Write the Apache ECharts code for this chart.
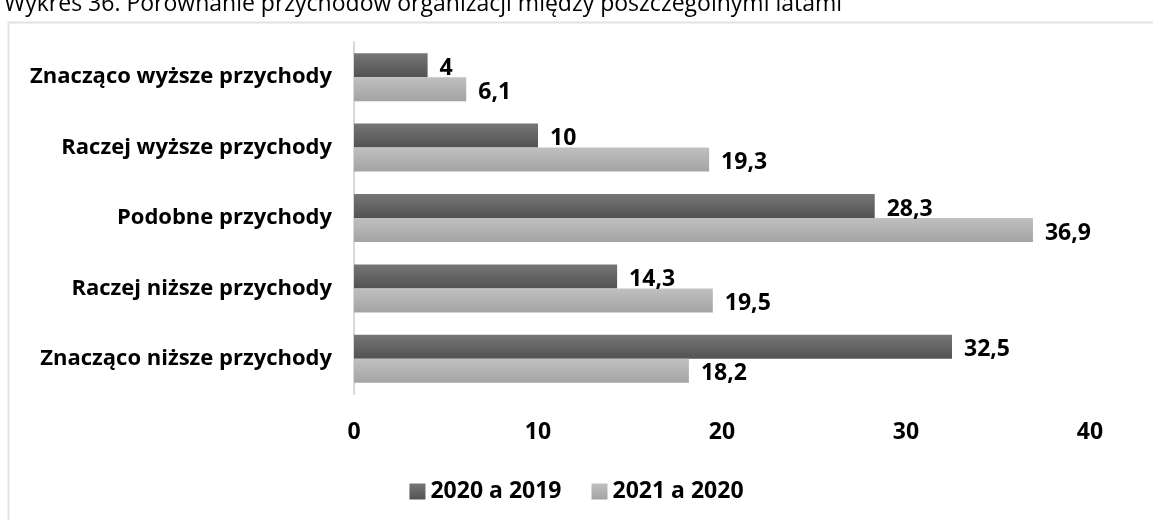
<!DOCTYPE html>
<html>
<head>
<meta charset="UTF-8">
<title>Wykres 36</title>
<script src="https://cdn.jsdelivr.net/npm/echarts@6/dist/echarts.min.js"></script>
</head>
<body style="margin:0;background:#fff;">
<div id="chart" style="width:1153px;height:520px;"></div>
<script>
// dane
var categories = ['Znacząco wyższe przychody', 'Raczej wyższe przychody', 'Podobne przychody', 'Raczej niższe przychody', 'Znacząco niższe przychody'];
var s2020 = [4, 10, 28.3, 14.3, 32.5];
var s2021 = [6.1, 19.3, 36.9, 19.5, 18.2];
var seriesNames = ['2020 a 2019', '2021 a 2020'];

var font = '"Open Sans", sans-serif';

function grad(top, bottom) {
	return {
		type: 'linear', x: 0, y: 0, x2: 0, y2: 1,
		colorStops: [{offset: 0, color: top}, {offset: 1, color: bottom}]
	};
}

var labelStyle = {
	show: true,
	position: 'right',
	distance: 12,
	offset: [0, 3],
	color: '#000',
	fontWeight: 'bold',
	fontSize: 23,
	fontFamily: font,
	formatter: function (p) { return String(p.value).replace('.', ','); }
};

var option = {
	animation: false,
	title: {
		text: 'Wykres 36. Porównanie przychodów organizacji między poszczególnymi latami',
		left: -1,
		top: -12,
		textStyle: {fontSize: 23, fontWeight: 'normal', color: '#000', fontFamily: font}
	},
	graphic: [{
		type: 'rect',
		shape: {x: 8.5, y: 22.5, width: 1160, height: 520},
		style: {fill: 'none', stroke: '#dde3ea', lineWidth: 2},
		silent: true
	}],
	grid: {left: 354, right: 63, top: 42, bottom: 126},
	legend: {
		bottom: 12,
		left: 'center',
		itemWidth: 16,
		itemHeight: 16,
		itemGap: 30,
		icon: 'rect',
		textStyle: {fontSize: 23, fontWeight: 'bold', color: '#000', fontFamily: font},
		data: seriesNames
	},
	xAxis: {
		type: 'value',
		min: 0,
		max: 40,
		interval: 10,
		axisLine: {show: false},
		axisTick: {show: false},
		splitLine: {show: false},
		axisLabel: {margin: 27, color: '#000', fontWeight: 'bold', fontSize: 23, fontFamily: font}
	},
	yAxis: {
		type: 'category',
		inverse: true,
		data: categories,
		axisLine: {show: true, lineStyle: {color: '#d9d9d9', width: 2}},
		axisTick: {show: false},
		axisLabel: {margin: 22, color: '#000', fontWeight: 'bold', fontSize: 22, fontFamily: font}
	},
	series: [{
		name: seriesNames[0],
		type: 'bar',
		data: s2020,
		barWidth: 24,
		barGap: '0%',
		itemStyle: {color: grad('#767676', '#525252')},
		label: labelStyle
	}, {
		name: seriesNames[1],
		type: 'bar',
		data: s2021,
		barWidth: 24,
		barGap: '0%',
		itemStyle: {color: grad('#c0c0c0', '#a3a3a3')},
		label: labelStyle
	}]
};

var myChart = echarts.init(document.getElementById('chart'));
myChart.setOption(option);
</script>
</body>
</html>
